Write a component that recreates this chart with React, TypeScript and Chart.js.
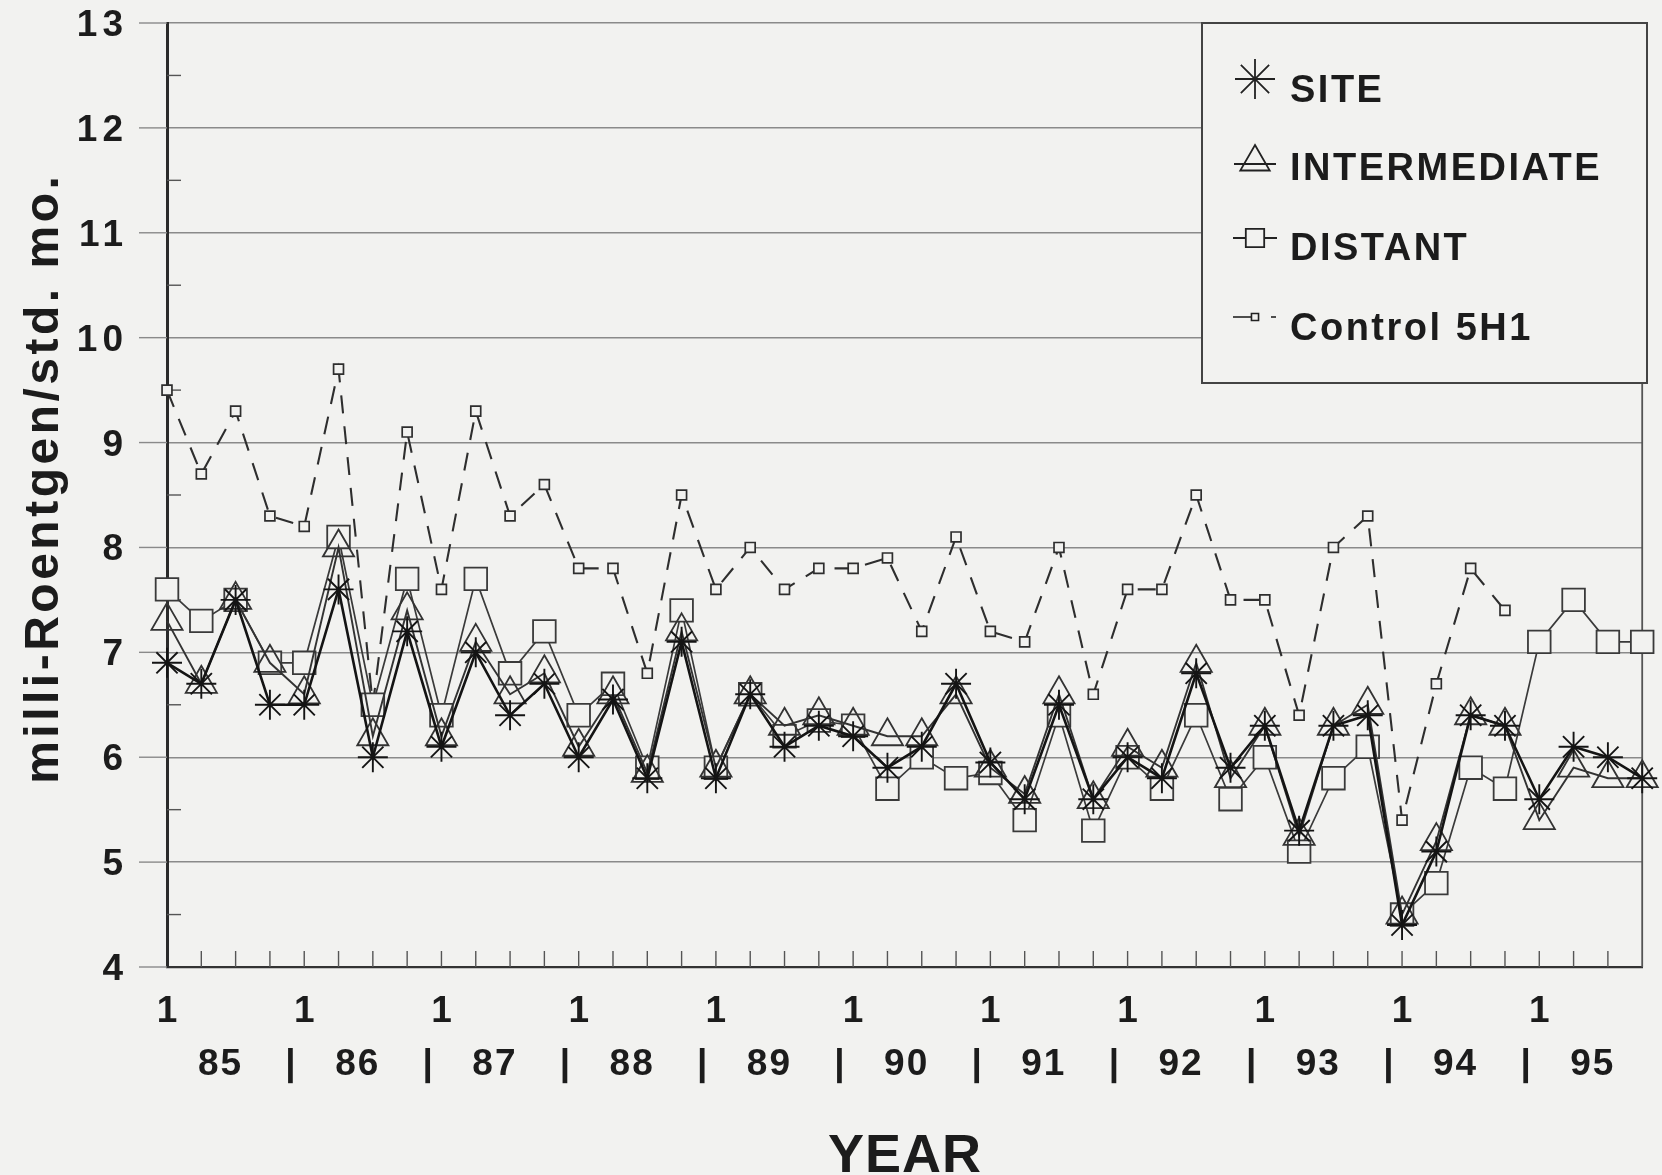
import React, { useEffect, useRef } from "react";
import { Chart, registerables } from "chart.js";
import { drawPoint } from "chart.js/helpers";

Chart.register(...registerables);

// ---------- data ----------
const years = ["85", "86", "87", "88", "89", "90", "91", "92", "93", "94", "95"];
const quarterNumbers = [1, 2, 3, 4];
const categories = years.flatMap((y) => quarterNumbers.map((q) => `${y}-${q}`));

const siteValues = [
  6.9, 6.7, 7.5, 6.5, 6.5, 7.6, 6.0, 7.2, 6.1, 7.0, 6.4, 6.7,
  6.0, 6.55, 5.8, 7.1, 5.8, 6.6, 6.1, 6.3, 6.2, 5.9, 6.1, 6.7,
  5.95, 5.6, 6.5, 5.6, 6.0, 5.8, 6.8, 5.9, 6.3, 5.3, 6.3, 6.4,
  4.4, 5.1, 6.4, 6.3, 5.6, 6.1, 6.0, 5.8,
];
const intermediateValues = [
  7.3, 6.7, 7.5, 6.9, 6.6, 8.0, 6.2, 7.4, 6.2, 7.1, 6.6, 6.8,
  6.1, 6.6, 5.85, 7.2, 5.9, 6.6, 6.3, 6.4, 6.3, 6.2, 6.2, 6.6,
  5.9, 5.65, 6.6, 5.6, 6.1, 5.9, 6.9, 5.8, 6.3, 5.25, 6.3, 6.5,
  4.5, 5.2, 6.4, 6.3, 5.4, 5.9, 5.8, 5.8,
];
const distantValues = [
  7.6, 7.3, 7.5, 6.9, 6.9, 8.1, 6.5, 7.7, 6.4, 7.7, 6.8, 7.2,
  6.4, 6.7, 5.9, 7.4, 5.9, 6.6, 6.2, 6.35, 6.3, 5.7, 6.0, 5.8,
  5.85, 5.4, 6.4, 5.3, 6.0, 5.7, 6.4, 5.6, 6.0, 5.1, 5.8, 6.1,
  4.5, 4.8, 5.9, 5.7, 7.1, 7.5, 7.1, 7.1,
];
const controlValues: (number | null)[] = [
  9.5, 8.7, 9.3, 8.3, 8.2, 9.7, 6.5, 9.1, 7.6, 9.3, 8.3, 8.6,
  7.8, 7.8, 6.8, 8.5, 7.6, 8.0, 7.6, 7.8, 7.8, 7.9, 7.2, 8.1,
  7.2, 7.1, 8.0, 6.6, 7.6, 7.6, 8.5, 7.5, 7.5, 6.4, 8.0, 8.3,
  5.4, 6.7, 7.8, 7.4, null, null, null, null,
];

const yTickValues = [4, 5, 6, 7, 8, 9, 10, 11, 12, 13];
const quarterTickLabel = "1";
const legendLabels = ["SITE", "INTERMEDIATE", "DISTANT", "Control 5H1"];
const yTitle = "milli-Roentgen/std. mo.";
const xTitle = "YEAR";

// ---------- styles ----------
const BG = "#f2f2f0";
const INK = "#1c1c1c";
const FONT = '"Liberation Sans", Arial, Helvetica, sans-serif';

function drawText(
  ctx: CanvasRenderingContext2D,
  s: string,
  x: number,
  y: number,
  size: number,
  align: CanvasTextAlign,
  spacing: number
) {
  ctx.font = `bold ${size}px ${FONT}`;
  ctx.textAlign = align;
  ctx.textBaseline = "alphabetic";
  (ctx as any).letterSpacing = `${spacing}px`;
  let dx = 0;
  if (align === "center") dx = spacing / 2;
  if (align === "right") dx = spacing;
  ctx.fillText(s, x + dx, y);
  (ctx as any).letterSpacing = "0px";
}

function seg(ctx: CanvasRenderingContext2D, x1: number, y1: number, x2: number, y2: number) {
  ctx.beginPath();
  ctx.moveTo(x1, y1);
  ctx.lineTo(x2, y2);
  ctx.stroke();
}

const decorPlugin = {
  id: "decor",
  beforeDraw(chart: any) {
    const ctx = chart.ctx as CanvasRenderingContext2D;
    ctx.save();
    ctx.fillStyle = BG;
    ctx.fillRect(0, 0, chart.width, chart.height);
    ctx.restore();
  },
  beforeDatasetsDraw(chart: any) {
    const ctx = chart.ctx as CanvasRenderingContext2D;
    const a = chart.chartArea;
    const x = chart.scales.x;
    const y = chart.scales.y;
    ctx.save();
    // gridline stubs left of the axis
    ctx.strokeStyle = "#8a8a8a";
    ctx.lineWidth = 1.4;
    for (const v of yTickValues) {
      const py = y.getPixelForValue(v);
      seg(ctx, a.left - 28, py, a.left, py);
    }
    // minor ticks at half units
    ctx.strokeStyle = "#555";
    ctx.lineWidth = 1.4;
    for (const v of yTickValues.slice(0, -1)) {
      const py = y.getPixelForValue(v + 0.5);
      seg(ctx, a.left, py, a.left + 14, py);
    }
    // quarterly ticks
    for (let i = 1; i < categories.length - 1; i++) {
      const px = x.getPixelForValue(i);
      seg(ctx, px, a.bottom, px, a.bottom - 16);
    }
    // right border
    ctx.strokeStyle = "#555";
    ctx.lineWidth = 1.8;
    seg(ctx, a.right, a.top, a.right, a.bottom);
    ctx.restore();
  },
  afterDraw(chart: any) {
    const ctx = chart.ctx as CanvasRenderingContext2D;
    const a = chart.chartArea;
    const x = chart.scales.x;
    const y = chart.scales.y;
    ctx.save();
    ctx.fillStyle = INK;

    // y tick labels
    for (const v of yTickValues) {
      const py = y.getPixelForValue(v);
      drawText(ctx, String(v), 123, py + 13, 37, "right", 5);
    }
    // quarter "1" labels at each year start
    years.forEach((_, k) => {
      const px = x.getPixelForValue(k * 4);
      drawText(ctx, quarterTickLabel, px, 1022, 37, "center", 0);
    });
    // year labels with separators
    years.forEach((yr, k) => {
      const px = x.getPixelForValue(k * 4 + 1.53);
      drawText(ctx, yr, px, 1075, 37, "center", 2);
      if (k < years.length - 1) {
        const sx = x.getPixelForValue(k * 4 + 3.6);
        drawText(ctx, "|", sx, 1075, 37, "center", 0);
      }
    });
    // x title
    drawText(ctx, xTitle, (a.left + a.right) / 2, 1172, 54, "center", 1);
    // y title
    ctx.save();
    ctx.translate(58, 480);
    ctx.rotate(-Math.PI / 2);
    drawText(ctx, yTitle, 0, 0, 48, "center", 3.5);
    ctx.restore();

    // legend box
    const bx = 1202, by = 23, bw = 445, bh = 360;
    ctx.fillStyle = BG;
    ctx.fillRect(bx, by, bw, bh);
    ctx.strokeStyle = "#444";
    ctx.lineWidth = 2;
    ctx.strokeRect(bx, by, bw, bh);

    const mx = 1255;
    ctx.strokeStyle = "#222";
    ctx.lineWidth = 1.8;
    // SITE
    ctx.fillStyle = "transparent";
    drawPoint(ctx, { pointStyle: "star", radius: 20, borderWidth: 1.8, rotation: 0 } as any, mx, 79);
    // INTERMEDIATE
    seg(ctx, mx - 21, 164, mx + 21, 164);
    drawPoint(ctx, { pointStyle: "triangle", radius: 17, borderWidth: 1.8, rotation: 0 } as any, mx, 162);
    // DISTANT
    seg(ctx, mx - 22, 238, mx + 22, 238);
    ctx.fillStyle = BG;
    drawPoint(ctx, { pointStyle: "rect", radius: 13, borderWidth: 1.8, rotation: 0 } as any, mx, 238);
    // Control
    ctx.lineWidth = 1.6;
    seg(ctx, mx - 22, 317, mx - 4, 317);
    seg(ctx, mx + 16, 317, mx + 21, 317);
    drawPoint(ctx, { pointStyle: "rect", radius: 5, borderWidth: 1.6, rotation: 0 } as any, mx, 317);

    ctx.fillStyle = INK;
    const baselines = [102, 180, 260, 340];
    legendLabels.forEach((lab, i) => {
      drawText(ctx, lab, 1290, baselines[i], 38, "left", 2.5);
    });
    ctx.restore();
  },
};

export default function App() {
  const canvasRef = useRef<HTMLCanvasElement | null>(null);

  useEffect(() => {
    const canvas = canvasRef.current;
    if (!canvas) return;
    const chart = new Chart(canvas, {
      type: "line",
      data: {
        labels: categories,
        datasets: [
          {
            label: legendLabels[0],
            data: siteValues,
            borderColor: "#141414",
            borderWidth: 2.6,
            pointStyle: "star",
            pointRadius: 15,
            pointBorderWidth: 1.9,
            pointBorderColor: "#141414",
            pointBackgroundColor: "transparent",
            tension: 0,
            order: 0,
            clip: false,
          },
          {
            label: legendLabels[1],
            data: intermediateValues,
            borderColor: "#333",
            borderWidth: 1.9,
            pointStyle: "triangle",
            pointRadius: 18,
            pointBorderWidth: 1.8,
            pointBorderColor: "#333",
            pointBackgroundColor: "transparent",
            tension: 0,
            order: 1,
            clip: false,
          },
          {
            label: legendLabels[2],
            data: distantValues,
            borderColor: "#3a3a3a",
            borderWidth: 1.7,
            pointStyle: "rect",
            pointRadius: 16,
            pointBorderWidth: 1.8,
            pointBorderColor: "#3a3a3a",
            pointBackgroundColor: BG,
            tension: 0,
            order: 2,
            clip: false,
          },
          {
            label: legendLabels[3],
            data: controlValues,
            borderColor: "#2e2e2e",
            borderWidth: 2.1,
            borderDash: [18, 13],
            pointStyle: "rect",
            pointRadius: 7,
            pointBorderWidth: 1.7,
            pointBorderColor: "#2e2e2e",
            pointBackgroundColor: BG,
            tension: 0,
            spanGaps: false,
            order: 3,
            clip: false,
          },
        ],
      },
      options: {
        responsive: false,
        animation: false,
        devicePixelRatio: 1,
        events: [],
        layout: { padding: { left: 167, right: 8, top: 23, bottom: 208 } },
        plugins: {
          legend: { display: false },
          tooltip: { enabled: false },
          title: { display: false },
        },
        scales: {
          x: {
            type: "category",
            offset: false,
            ticks: { display: false },
            grid: { display: false, drawTicks: false },
            border: { display: true, color: "#333", width: 2.2 },
          },
          y: {
            type: "linear",
            min: 4,
            max: 13,
            ticks: { display: false, stepSize: 1 },
            grid: { color: "#8a8a8a", lineWidth: 1.4, drawTicks: false },
            border: { display: true, color: "#2a2a2a", width: 3 },
          },
        },
      } as any,
      plugins: [decorPlugin as any],
    });
    return () => chart.destroy();
  }, []);

  return (
    <div style={{ position: "fixed", left: 0, top: 0, width: 1662, height: 1175, background: BG }}>
      <canvas ref={canvasRef} width={1662} height={1175} style={{ display: "block" }} />
    </div>
  );
}
